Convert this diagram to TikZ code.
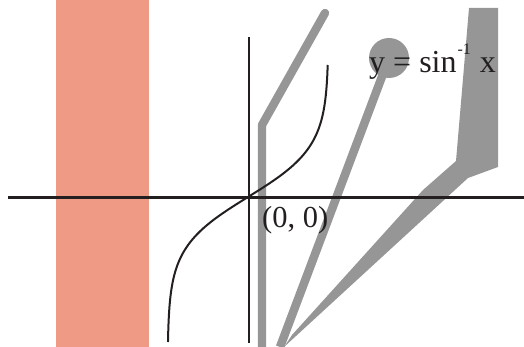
\documentclass[tikz,border=0pt]{standalone}
\usepackage{fontspec}
\setmainfont{Liberation Serif}
\definecolor{salmon}{RGB}{239,154,133}
\definecolor{grayfill}{RGB}{150,150,150}
\definecolor{ink}{RGB}{35,31,32}
\begin{document}
\begin{tikzpicture}[x=1pt,y=-1pt,
  axisline/.style={draw=ink, line width=2.5pt},
  curveline/.style={draw=ink, line width=2pt},
  grayline/.style={draw=grayfill, line width=8.4pt},
  lbl/.style={inner sep=0pt, anchor=base west, text=ink}]
\useasboundingbox (0,0) rectangle (524,347);
\fill[salmon] (56,0) rectangle (149,347);
% tapered gray band
\fill[grayfill] (284,347) -- (468,178) -- (498,167) -- (498,8) -- (469,8) -- (456,161) -- (423,190) -- (292,335) -- cycle;
% circle with its rod
\node[circle, fill=grayfill, minimum size=40pt, inner sep=0pt] (hub) at (389,58) {};
\coordinate (rodfoot) at (280,347);
\draw[grayline, line width=8.5pt] (rodfoot) -- (hub.center);
% bent gray line
\coordinate (bentfoot) at (262,350);
\coordinate (bend) at (262,125);
\coordinate (benttop) at (325,13);
\draw[grayline, line cap=round, line join=round] (bentfoot) -- (bend) -- (benttop);
% axes
\coordinate (xl) at (8,197.5);
\coordinate (xr) at (524,197.5);
\coordinate (yt) at (249,37);
\coordinate (yb) at (249,343);
\draw[axisline] (xl) -- (xr);
\draw[axisline] (yt) -- (yb);
% curve
\draw[curveline] plot[domain=-2.64:2.9, samples=120, smooth] ({248-80.5*tanh(\x)}, {197+50*\x});
% labels
\node[lbl, font=\fontsize{30.5}{30.5}\selectfont] (origin) at (262,228) {(0, 0)};
\node[lbl, font=\fontsize{32}{32}\selectfont] (formula) at (369,73) {y = sin\kern1pt\raisebox{18pt}{\fontsize{16}{16}\selectfont -1}\kern1pt{} x};
\end{tikzpicture}
\end{document}
